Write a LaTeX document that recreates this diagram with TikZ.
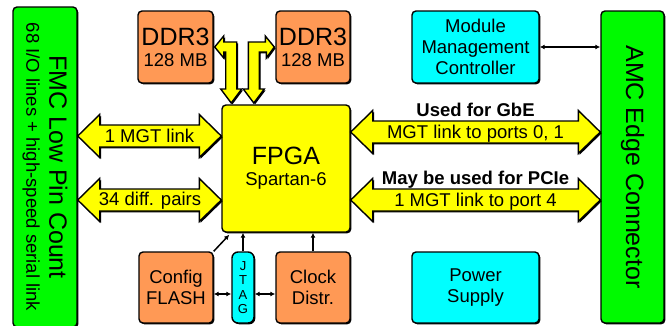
\documentclass[tikz,border=0pt]{standalone}
\usepackage{fontspec}
\setmainfont{Liberation Sans}
\usepackage{graphicx}
\usepackage{tikz}
\usetikzlibrary{calc,shadows,arrows.meta}

\definecolor{ddrorange}{RGB}{255,153,85}
\definecolor{fpgayellow}{RGB}{255,255,0}
\definecolor{mmccyan}{RGB}{0,255,255}
\definecolor{edgegreen}{RGB}{0,250,0}

% wide double arrow between two tips on one line
\newcommand{\fatarrow}[2]{%
  \draw[fat] (#1) -- ++(22,-21.5) -- ++(0,10.5) -- ($(#2)+(-22,-11)$) -- ++(0,-10.5)
    -- (#2) -- ++(-22,21.5) -- ++(0,-10.5) -- ($(#1)+(22,11)$) -- ++(0,10.5) -- cycle;}

\begin{document}
\begin{tikzpicture}[x=1pt,y=-1pt,
    box/.style={draw, line width=1.4pt, rounded corners=4pt, align=center, inner sep=0pt,
      drop shadow={shadow xshift=1.3pt, shadow yshift=-1.3pt, fill=black, opacity=1},
      font=\fontsize{18.5}{21}\selectfont},
    fat/.style={draw, fill=fpgayellow, line width=1.4pt, line join=miter,
      drop shadow={shadow xshift=1.3pt, shadow yshift=-1.3pt, fill=black, opacity=1}},
    lbl/.style={inner sep=0pt, font=\fontsize{18.5}{21}\selectfont},
    conn/.style={line width=1.5pt},
    >={Latex[length=5pt,width=5pt]}]
	\useasboundingbox (0,0) rectangle (672,325);

	%connectors
	\node[box, fill=edgegreen, minimum width=64, minimum height=312] (fmc) at (45,167)
		{\rotatebox{-90}{\parbox{320pt}{\centering\fontsize{25}{23}\selectfont FMC Low Pin Count\par
		\fontsize{18.5}{23}\selectfont 68 I/O lines + high-speed serial link\par}}};
	\node[box, fill=edgegreen, minimum width=63, minimum height=312] (amc) at (632.5,167)
		{\rotatebox{-90}{\fontsize{25}{28}\selectfont AMC Edge Connector}};

	%chips
	\node[box, fill=ddrorange, minimum width=75, minimum height=72] (ddrA) at (175.5,47)
		{\fontsize{25}{23}\selectfont DDR3\\\fontsize{18.5}{23}\selectfont 128 MB};
	\node[box, fill=ddrorange, minimum width=74, minimum height=72] (ddrB) at (313,47)
		{\fontsize{25}{23}\selectfont DDR3\\\fontsize{18.5}{23}\selectfont 128 MB};
	\node[box, fill=fpgayellow, minimum width=128, minimum height=127] (fpga) at (286,168.5)
		{\fontsize{25}{23}\selectfont FPGA\\\fontsize{18.5}{23}\selectfont Spartan-6};
	\node[box, fill=mmccyan, minimum width=127, minimum height=72] (mmc) at (475.5,47)
		{Module\\Management\\Controller};
	\node[box, fill=mmccyan, minimum width=127, minimum height=71] (psu) at (475.5,287.5)
		{Power\\Supply};
	\node[box, fill=ddrorange, minimum width=74, minimum height=71] (flash) at (176,287.5)
		{Config\\FLASH};
	\node[box, fill=mmccyan, minimum width=22, minimum height=71, rounded corners=6pt,
		font=\fontsize{13}{14.5}\selectfont] (jtag) at (243,287.5) {J\\T\\A\\G};
	\node[box, fill=ddrorange, minimum width=74, minimum height=71] (clk) at (313,287.5)
		{Clock\\Distr.};

	%memory buses
	\draw[fat] ($(ddrA.east)+(1,0)$) -- ++(9,-11) -- ++(0,6) -- ++(13,0) -- ++(0,47)
		-- ++(5,0) -- ++(-10.5,14) -- ++(-10.5,-14) -- ++(5,0) -- ++(0,-37)
		-- ++(-2,0) -- ++(0,6) -- cycle;
	\draw[fat] ($(ddrB.west)+(-1,0)$) -- ++(-9,-11) -- ++(0,6) -- ++(-17,0) -- ++(0,47)
		-- ++(-5,0) -- ++(10.5,14) -- ++(10.5,-14) -- ++(-5,0) -- ++(0,-37)
		-- ++(7,0) -- ++(0,6) -- cycle;

	%wide links
	\fatarrow{fmc.east |- 0,136}{fpga.west |- 0,136}
	\fatarrow{fmc.east |- 0,200}{fpga.west |- 0,200}
	\fatarrow{fpga.east |- 0,132}{amc.west |- 0,132}
	\fatarrow{fpga.east |- 0,200}{amc.west |- 0,200}

	\node[lbl] (mgtL) at (149.5,136) {1 MGT link};
	\node[lbl] (diffL) at (150,201) {34 diff. pairs};
	\node[lbl, font=\fontsize{18.5}{21}\selectfont\bfseries] (gbe) at (475.5,110) {Used for GbE};
	\node[lbl] (mgtR) at (475.5,134) {MGT link to ports 0, 1};
	\node[lbl, font=\fontsize{18.5}{21}\selectfont\bfseries] (pcie) at (475.5,180) {May be used for PCIe};
	\node[lbl] (port4) at (475.5,201.5) {1 MGT link to port 4};

	%thin links
	\draw[conn, <->] (mmc.east) -- (mmc.east -| amc.west);
	\draw[conn, ->] (flash.north east) -- ($(fpga.south west)+(8,2)$);
	\draw[conn, ->] (jtag.north) -- (jtag.north |- fpga.south);
	\draw[conn, ->] (clk.north) -- (clk.north |- fpga.south);
	\draw[conn, <->] ($(flash.east)+(0,6.5)$) -- ($(jtag.west)+(0,6.5)$);
	\draw[conn, <->] ($(jtag.east)+(0,6.5)$) -- ($(clk.west)+(0,6.5)$);
\end{tikzpicture}
\end{document}
